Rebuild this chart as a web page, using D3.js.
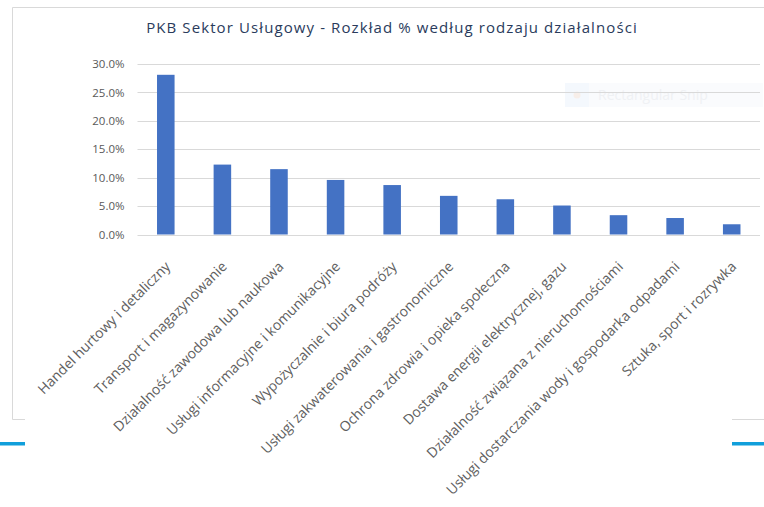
<!DOCTYPE html>
<html>
<head>
<meta charset="utf-8">
<script src="https://cdn.jsdelivr.net/npm/d3@7"></script>
<style>
    body { margin: 0; background: #fff; }
    svg { display: block; }
</style>
</head>
<body>
<div id="chart"></div>
<script>
var categories = [
    "Handel hurtowy i detaliczny",
    "Transport i magazynowanie",
    "Działalność zawodowa lub naukowa",
    "Usługi informacyjne i komunikacyjne",
    "Wypożyczalnie i biura podróży",
    "Usługi zakwaterowania i gastronomiczne",
    "Ochrona zdrowia i opieka społeczna",
    "Dostawa energii elektrycznej, gazu",
    "Działalność związana z nieruchomościami",
    "Usługi dostarczania wody i gospodarka odpadami",
    "Sztuka, sport i rozrywka"
];
var shares = [0.281, 0.123, 0.115, 0.096, 0.087, 0.068, 0.062, 0.051, 0.034, 0.029, 0.018];
var yTicks = [0, 0.05, 0.10, 0.15, 0.20, 0.25, 0.30];
var chartTitle = "PKB Sektor Usługowy - Rozkład % według rodzaju działalności";

(function () {
    var width = 764, height = 507;
    var svg = d3.select("#chart").append("svg")
        .attr("width", width)
        .attr("height", height);

    // outer frame of the screenshot
    var frame = svg.append("g").attr("stroke", "#d9d9d9").attr("stroke-width", 1);
    frame.append("line").attr("x1", 12.5).attr("x2", width).attr("y1", 7.5).attr("y2", 7.5);
    frame.append("line").attr("x1", 12.5).attr("x2", 12.5).attr("y1", 7.5).attr("y2", 419.5);
    frame.append("line").attr("x1", 12.5).attr("x2", 25).attr("y1", 419.5).attr("y2", 419.5);
    frame.append("line").attr("x1", 732).attr("x2", width).attr("y1", 419.5).attr("y2", 419.5);

    svg.append("rect").attr("x", 0).attr("y", 442).attr("width", 25).attr("height", 3.5).attr("fill", "#119fdb");
    svg.append("rect").attr("x", 732).attr("y", 442).attr("width", 32).attr("height", 3.5).attr("fill", "#119fdb");

    // faint snip overlay left in the picture
    var snip = svg.append("g");
    snip.append("rect").attr("x", 565).attr("y", 83).attr("width", 198).attr("height", 24).attr("fill", "#fafbfd");
    snip.append("rect").attr("x", 565).attr("y", 83).attr("width", 24).attr("height", 24).attr("fill", "#f4f8fd");
    snip.append("circle").attr("cx", 577).attr("cy", 95).attr("r", 3.5).attr("fill", "#f7eee9");
    snip.append("text").attr("x", 598).attr("y", 100)
        .attr("font-family", "Open Sans").attr("font-size", 14)
        .attr("fill", "#eff1f4").text("Rectangular Snip");

    svg.append("text")
        .attr("x", 392).attr("y", 33)
        .attr("text-anchor", "middle")
        .attr("font-family", "Open Sans")
        .attr("font-size", 15)
        .attr("letter-spacing", 1.1)
        .attr("fill", "#2a3b5c")
        .text(chartTitle);

    var x = d3.scaleBand()
        .domain(categories)
        .range([137.5, 760])
        .paddingInner(0.69)
        .paddingOuter(0.345);

    var y = d3.scaleLinear()
        .domain([0, 0.30])
        .range([234.5, 64]);

    // gridlines
    svg.append("g")
        .selectAll("line")
        .data(yTicks)
        .enter().append("line")
        .attr("x1", 137.5).attr("x2", 760)
        .attr("y1", function (d) { return Math.round(y(d)) + 0.5; })
        .attr("y2", function (d) { return Math.round(y(d)) + 0.5; })
        .attr("stroke", "#d9d9d9")
        .attr("stroke-width", 1.2);

    var yAxis = svg.append("g")
        .attr("transform", "translate(137.5,0)")
        .call(d3.axisLeft(y).tickValues(yTicks).tickFormat(d3.format(".1%")).tickSize(0).tickPadding(13));
    yAxis.select(".domain").remove();
    yAxis.selectAll("text")
        .attr("font-family", "Open Sans")
        .attr("font-size", 11.5)
        .attr("fill", "#595959");

    svg.selectAll(".bar")
        .data(shares)
        .enter().append("rect")
        .attr("class", "bar")
        .attr("x", function (d, i) { return x(categories[i]); })
        .attr("y", function (d) { return y(d); })
        .attr("width", x.bandwidth())
        .attr("height", function (d) { return y(0) - y(d); })
        .attr("fill", "#4472c4");

    // rotated category labels
    svg.append("g")
        .selectAll("text")
        .data(categories)
        .enter().append("text")
        .attr("transform", function (d) {
            return "translate(" + (x(d) + x.bandwidth() / 2 + 2) + ",264) rotate(-45)";
        })
        .attr("text-anchor", "end")
        .attr("dy", "0.35em")
        .attr("font-family", "Open Sans")
        .attr("font-size", 14)
        .attr("fill", "#606060")
        .text(function (d) { return d; });
}());
</script>
</body>
</html>
